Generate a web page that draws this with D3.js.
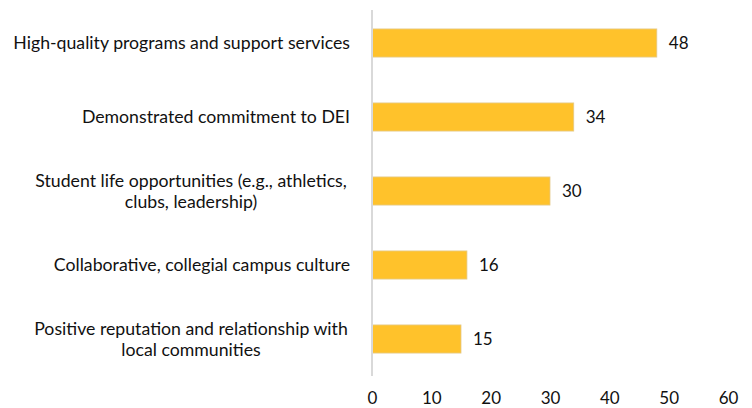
<!DOCTYPE html>
<html>
<head>
<meta charset="utf-8">
<script src="https://cdn.jsdelivr.net/npm/d3@7"></script>
<style>
  html, body { margin: 0; padding: 0; background: #fff; }
  svg { display: block; }
  svg text { font-family: Lato, "Open Sans", sans-serif; }
</style>
</head>
<body>
<svg id="chart" width="752" height="408"></svg>
<script>
// Factors, one entry per bar (top to bottom); "\n" splits a label over two lines
const categories = [
  "High-quality programs and support services",
  "Demonstrated commitment to DEI",
  "Student life opportunities (e.g., athletics,\nclubs, leadership)",
  "Collaborative, collegial campus culture",
  "Positive reputation and relationship with\nlocal communities"
];
const values = [48, 34, 30, 16, 15];
const xTicks = [0, 10, 20, 30, 40, 50, 60];

const FONT = "Lato, 'Open Sans', sans-serif";
const FS = 17.7;

const svg = d3.select("#chart");
const plotLeft = 372, plotRight = 728, plotTop = 6, plotBottom = 376;

const x = d3.scaleLinear().domain([0, 60]).range([plotLeft, plotRight]);
const y = d3.scaleBand().domain(categories).range([plotTop, plotBottom]).paddingInner(0.62).paddingOuter(0.31);

// Bars
svg.append("g").selectAll("rect")
  .data(values)
  .join("rect")
  .attr("x", x(0))
  .attr("y", (d, i) => y(categories[i]))
  .attr("width", d => x(d) - x(0))
  .attr("height", y.bandwidth())
  .attr("fill", "#FFC22B")
  .attr("stroke", "#E3C98A")
  .attr("stroke-width", 0.8);

// Value labels
svg.append("g").selectAll("text")
  .data(values)
  .join("text")
  .attr("x", d => x(d) + 12)
  .attr("y", (d, i) => y(categories[i]) + y.bandwidth() / 2)
  .attr("dy", "0.36em")
  .attr("font-family", FONT)
  .attr("font-size", 17)
  .attr("fill", "#111")
  .text(d => d);

// Category axis (left)
const yAxis = svg.append("g")
  .attr("transform", `translate(${plotLeft},0)`)
  .call(d3.axisLeft(y).tickSize(0).tickPadding(0));
yAxis.select(".domain").remove();
yAxis.selectAll(".tick text").remove();
yAxis.selectAll(".tick").each(function (d) {
  const lines = d.split("\n");
  const wrapped = lines.length > 1;
  const t = d3.select(this).append("text")
    .attr("text-anchor", wrapped ? "middle" : "end")
    .attr("font-family", FONT)
    .attr("font-size", FS)
    .attr("fill", "#111");
  const lh = 21;
  lines.forEach((ln, i) => {
    t.append("tspan")
      .attr("x", wrapped ? -181 : -22)
      .attr("y", (i - (lines.length - 1) / 2) * lh)
      .attr("dy", "0.36em")
      .text(ln);
  });
});

// Vertical baseline at zero
svg.append("line")
  .attr("x1", x(0)).attr("x2", x(0))
  .attr("y1", 10).attr("y2", plotBottom)
  .attr("stroke", "#D9D9D9")
  .attr("stroke-width", 2);

// Value axis labels (bottom)
const xAxis = svg.append("g")
  .attr("transform", `translate(0,${plotBottom})`)
  .call(d3.axisBottom(x).tickValues(xTicks).tickSize(0).tickPadding(16));
xAxis.select(".domain").remove();
xAxis.selectAll(".tick text")
  .attr("font-size", 17)
  .attr("font-family", FONT)
  .attr("fill", "#111");
</script>
</body>
</html>
